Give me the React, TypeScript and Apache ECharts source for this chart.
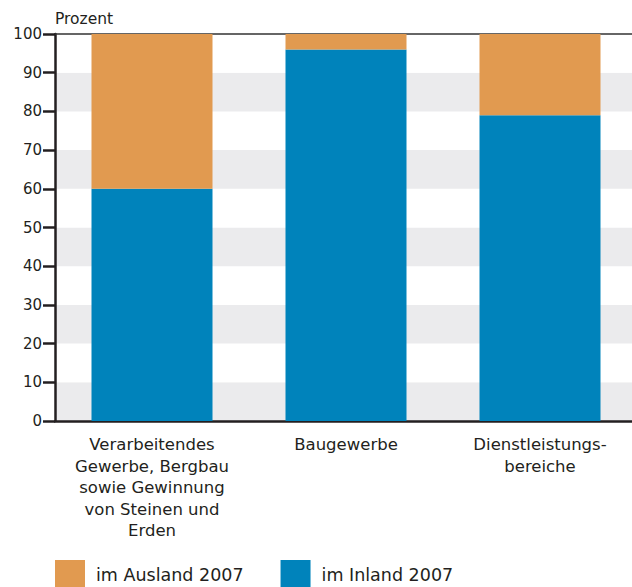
import React, { useEffect, useRef } from "react";
import * as echarts from "echarts";

const categories = [
  "Verarbeitendes\nGewerbe, Bergbau\nsowie Gewinnung\nvon Steinen und\nErden",
  "Baugewerbe",
  "Dienstleistungs-\nbereiche",
];
const inland = [60, 96, 79];
const ausland = [40, 4, 21];
const seriesNames = ["im Ausland 2007", "im Inland 2007"];
const yTicks = { min: 0, max: 100, interval: 10 };

const FONT = "'DejaVu Sans', 'Liberation Sans', Arial, sans-serif";
const INK = "#231f20";

export default function App() {
  const ref = useRef<HTMLDivElement>(null);
  useEffect(() => {
    if (!ref.current) return;
    const chart = echarts.init(ref.current, null, { renderer: "svg" });
    chart.setOption({
      animation: false,
      textStyle: { fontFamily: FONT },
      grid: { left: 55, right: 0, top: 34, bottom: 166, containLabel: false },
      legend: {
        data: seriesNames,
        left: 55,
        top: 560,
        padding: 0,
        itemWidth: 30,
        itemHeight: 30,
        itemGap: 37,
        icon: "rect",
        textStyle: { fontFamily: FONT, fontSize: 17.5, color: INK, padding: [0, 0, 0, 6] },
        selectedMode: false,
      },
      xAxis: [
        {
          type: "category",
          data: categories,
          axisLine: { show: true, lineStyle: { color: INK, width: 2.5 } },
          axisTick: { show: false },
          axisLabel: {
            fontFamily: FONT,
            fontSize: 16.5,
            color: INK,
            lineHeight: 21.5,
            margin: 13,
            interval: 0,
            align: "center",
          },
        },
        {
          type: "category",
          position: "top",
          data: categories,
          axisLine: { show: true, lineStyle: { color: "#333", width: 1.5 } },
          axisTick: { show: false },
          axisLabel: { show: false },
        },
      ],
      yAxis: {
        type: "value",
        min: yTicks.min,
        max: yTicks.max,
        interval: yTicks.interval,
        name: "Prozent",
        nameLocation: "end",
        nameGap: 7,
        nameTextStyle: { fontFamily: FONT, fontSize: 15.5, color: INK, align: "left" },
        axisLine: { show: true, lineStyle: { color: INK, width: 2.5 } },
        axisTick: { show: true, length: 12, lineStyle: { color: INK, width: 2.5 } },
        axisLabel: { fontFamily: FONT, fontSize: 15, color: INK, margin: 13 },
        splitLine: { show: false },
        splitArea: { show: true, areaStyle: { color: ["#ebebed", "#ffffff"] } },
      },
      series: [
        {
          name: seriesNames[1],
          type: "bar",
          stack: "total",
          data: inland,
          barWidth: 121,
          itemStyle: { color: "#0083bb" },
        },
        {
          name: seriesNames[0],
          type: "bar",
          stack: "total",
          data: ausland,
          barWidth: 121,
          itemStyle: { color: "#e19a50" },
        },
      ],
    });
    return () => chart.dispose();
  }, []);
  return (
    <div
      style={{ position: "fixed", left: 0, top: 0, width: 632, height: 587, overflow: "hidden", background: "#fff" }}
    >
      <div ref={ref} style={{ width: 637, height: 587 }} />
    </div>
  );
}
